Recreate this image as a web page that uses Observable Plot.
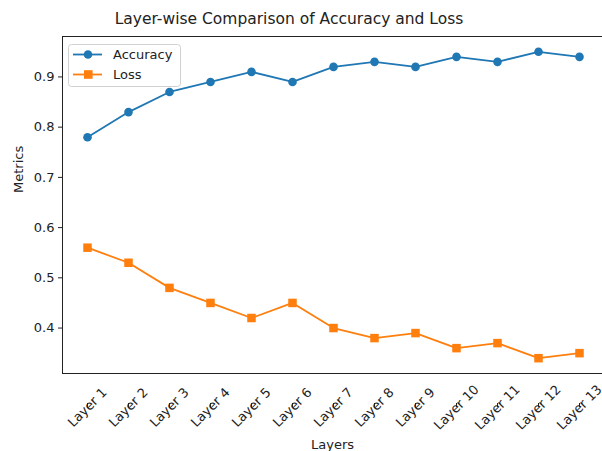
<!DOCTYPE html>
<html>
<head>
<meta charset="utf-8">
<script src="https://cdn.jsdelivr.net/npm/d3@7"></script>
<script src="https://cdn.jsdelivr.net/npm/@observablehq/plot@0.6"></script>
<style>
  html, body { margin: 0; padding: 0; background: #fff; }
  body { width: 602px; height: 451px; overflow: hidden; position: relative; font-family: "DejaVu Sans", sans-serif; }
  #title { position: absolute; left: 0; top: 10px; width: 578px; text-align: center; font-size: 15.5px; color: #222; white-space: nowrap; }
  #chart { position: absolute; left: 0; top: 0; }
</style>
</head>
<body>
<div id="chart"></div>
<div id="title">Layer-wise Comparison of Accuracy and Loss</div>
<script>
const layers = ["Layer 1","Layer 2","Layer 3","Layer 4","Layer 5","Layer 6","Layer 7","Layer 8","Layer 9","Layer 10","Layer 11","Layer 12","Layer 13"];
const accuracy = [0.78, 0.83, 0.87, 0.89, 0.91, 0.89, 0.92, 0.93, 0.92, 0.94, 0.93, 0.95, 0.94];
const loss = [0.56, 0.53, 0.48, 0.45, 0.42, 0.45, 0.40, 0.38, 0.39, 0.36, 0.37, 0.34, 0.35];
const yTicks = [0.4, 0.5, 0.6, 0.7, 0.8, 0.9];

const accData = layers.map((l, i) => ({layer: l, value: accuracy[i]}));
const lossData = layers.map((l, i) => ({layer: l, value: loss[i]}));

const all = accuracy.concat(loss);
const lo = d3.min(all), hi = d3.max(all), pad = (hi - lo) * 0.05;
const yDomain = [lo - pad, hi + pad];

const blue = "#1f77b4", orange = "#ff7f0e";

const plot = Plot.plot({
  width: 602,
  height: 451,
  marginLeft: 62,
  marginTop: 36,
  marginBottom: 78,
  marginRight: 0,
  style: {fontFamily: "DejaVu Sans, sans-serif", fontSize: "13px", color: "#222", background: "#fff"},
  x: {type: "point", domain: layers, range: [87, 579], padding: 0, label: null},
  y: {domain: yDomain, label: null},
  marks: [
    Plot.axisY(yTicks, {tickSize: 4, tickPadding: 4, tickFormat: d => d.toFixed(1), fontSize: 13, stroke: "#222", color: "#222", label: null}),
    Plot.axisX(layers, {tickSize: 4, tickRotate: -45, textAnchor: "middle", lineAnchor: "middle", tickPadding: 0, dy: 30, fontSize: 13, stroke: "#222", label: null}),
    Plot.text(["Metrics"], {frameAnchor: "left", dx: -44, dy: -12, rotate: -90, fontSize: 13, fill: "#222"}),
    Plot.text(["Layers"], {frameAnchor: "bottom", dx: 0, dy: 75, fontSize: 13, fill: "#222"}),
    Plot.ruleY([yDomain[0], yDomain[1]], {stroke: "#222", strokeWidth: 1}),
    Plot.line(accData, {x: "layer", y: "value", stroke: blue, strokeWidth: 1.8}),
    Plot.dot(accData, {x: "layer", y: "value", fill: blue, r: 4.3, symbol: "circle"}),
    Plot.line(lossData, {x: "layer", y: "value", stroke: orange, strokeWidth: 1.8}),
    Plot.dot(lossData, {x: "layer", y: "value", fill: orange, r: 4.8, symbol: "square"})
  ]
});
document.getElementById("chart").appendChild(plot);

// left spine
const svg = d3.select(plot);
svg.append("line").attr("x1", 62.5).attr("x2", 62.5).attr("y1", 36).attr("y2", 373).attr("stroke", "#222");

// legend
const lg = svg.append("g").attr("font-family", "DejaVu Sans, sans-serif").attr("font-size", 13).attr("fill", "#222").attr("text-anchor", "start");
lg.append("rect").attr("x", 68.5).attr("y", 44.5).attr("width", 112).attr("height", 42).attr("rx", 3)
  .attr("fill", "#fff").attr("fill-opacity", 0.8).attr("stroke", "#d0d0d0");
const entries = [{name: "Accuracy", color: blue, sym: "circle"}, {name: "Loss", color: orange, sym: "square"}];
entries.forEach((e, i) => {
  const y = 54.5 + i * 20;
  lg.append("line").attr("x1", 73).attr("x2", 102).attr("y1", y).attr("y2", y).attr("stroke", e.color).attr("stroke-width", 1.8);
  if (e.sym === "circle") lg.append("circle").attr("cx", 88).attr("cy", y).attr("r", 4.3).attr("fill", e.color);
  else lg.append("rect").attr("x", 84).attr("y", y - 4.3).attr("width", 8.6).attr("height", 8.6).attr("fill", e.color);
  lg.append("text").attr("x", 113).attr("y", y).attr("dy", "0.35em").attr("text-anchor", "start").text(e.name);
});
</script>
</body>
</html>
